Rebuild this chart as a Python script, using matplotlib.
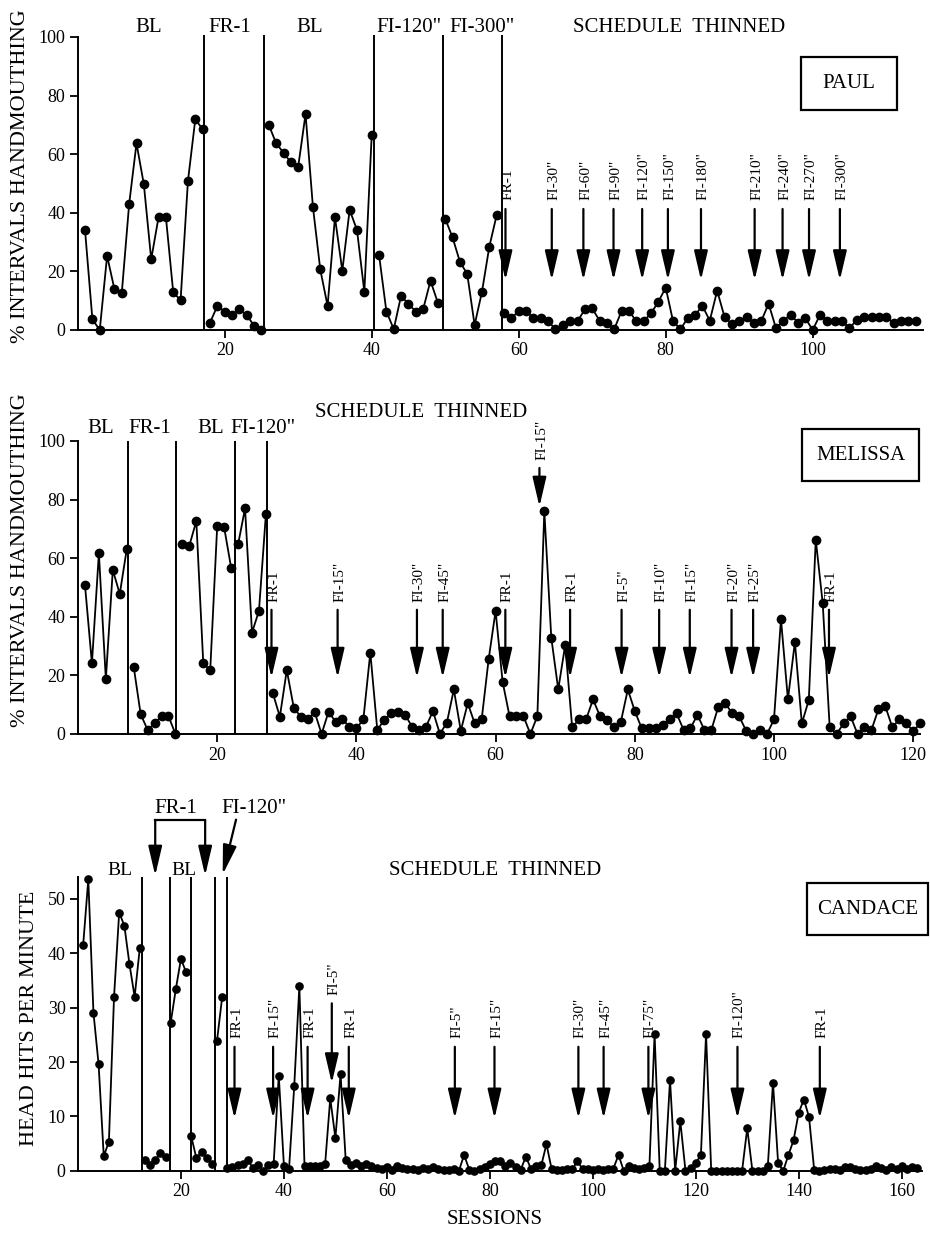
import numpy as np
import matplotlib
matplotlib.use('Agg')
import matplotlib.pyplot as plt
from matplotlib.patches import Rectangle

plt.rcParams['font.family'] = 'Liberation Serif'

# ---- data ----
# Paul: sessions 1-114, phases end at these sessions
paul_values = [34, 3.6, 0, 25.3, 13.9, 12.7, 43, 63.7, 49.7, 24.1, 38.5, 38.5, 12.8, 10.2, 50.9, 71.9, 68.5,
               2.5, 8.2, 6.3, 5.1, 7.1, 5.1, 1.4, 0,
               70, 63.7, 60.5, 57.2, 55.7, 73.7, 42.1, 20.7, 8.2, 38.5, 20.2, 41, 34.1, 13, 66.5,
               25.6, 6.3, 0.3, 11.7, 8.9, 6.3, 7.1, 16.8, 9.3,
               38, 31.6, 23.3, 19.1, 1.7, 13, 28.4, 39.2,
               5.7, 4, 6.5, 6.5, 4, 4, 3, 0.3, 1.7, 3, 3, 7, 7.4, 3.2, 2.5, 0.3, 6.5, 6.5,
               3, 3, 5.7, 9.6, 14.5, 3, 0.3, 4, 5.2, 8.2, 3.2, 13.4, 4.5, 2, 3, 4.4, 2.3, 3, 9, 0.6,
               3.2, 5.2, 2.5, 4, 0, 5.2, 3, 3, 3, 0.6, 3.5, 4.5, 4.5, 4.5, 4.5, 2.5, 3.2, 3.2, 3.2]
paul_breaks = [17, 25, 40, 49, 57]
paul_lines = [17.2, 25.4, 40.3, 49.7, 57.7]
paul_phase_x = [9.6, 20.7, 31.6, 45, 55, 81.8]
paul_phase_text = ['BL', 'FR-1', 'BL', 'FI-120"', 'FI-300"', 'SCHEDULE  THINNED']
paul_arrow_x = [58.2, 64.5, 68.8, 72.9, 76.8, 80.3, 84.8, 92.1, 95.9, 99.5, 103.7]
paul_arrow_text = ['FR-1', 'FI-30"', 'FI-60"', 'FI-90"', 'FI-120"', 'FI-150"', 'FI-180"',
                   'FI-210"', 'FI-240"', 'FI-270"', 'FI-300"']

# Melissa: sessions 1-121
melissa_values = [50.9, 24.1, 61.7, 18.7, 56, 47.8, 63,
                  23, 6.8, 1.4, 3.6, 6.1, 6.1, 0,
                  64.7, 64.3, 72.7, 24.1, 21.8, 71, 70.5, 56.8,
                  64.7, 77, 34.6, 42, 75.1,
                  13.9, 5.9, 21.8, 9, 5.9, 5, 7.5, 0, 7.6, 4.2, 5, 2.5, 1.9,
                  5, 27.8, 1.4, 4.8, 7, 7.6, 6.5, 2.5, 1.4, 2.5, 7.8, 0, 3.9, 15.2, 1.1, 10.5, 3.6, 5, 25.5, 42,
                  17.9, 6.1, 6.1, 6.1, 0, 6.1, 76.1, 32.9, 15.2, 30.4, 2.3, 5, 5, 11.8, 6.1, 4.8, 2.3, 4.2, 15.2,
                  7.8, 1.9, 1.9, 1.9, 3.1, 5, 7, 1.5, 2, 6.5, 1.4, 1.4, 9.3, 10.5, 7, 6, 1.1, 0, 1.4, 0,
                  5, 39.2, 11.8, 31.4, 3.6, 11.6, 66.3, 44.6, 2.3, 0, 3.6, 6.1, 0, 2.3, 1.4, 8.4, 9.4, 2.3,
                  5, 3.6, 1, 3.6]
melissa_breaks = [7, 14, 22, 27]
melissa_lines = [7.2, 14.05, 22.6, 27.1]
melissa_phase_x = [3.3, 10.3, 19, 26.6]
melissa_phase_text = ['BL', 'FR-1', 'BL', 'FI-120"']
melissa_arrow_x = [27.8, 37.3, 48.7, 52.4, 61.4, 66.3, 70.7, 78.1, 83.5, 87.9, 93.9, 97.0, 107.9]
melissa_arrow_text = ['FR-1', 'FI-15"', 'FI-30"', 'FI-45"', 'FR-1', 'FI-15"', 'FR-1',
                      'FI-5"', 'FI-10"', 'FI-15"', 'FI-20"', 'FI-25"', 'FR-1']
melissa_arrow_top = [42.4, 42.4, 42.4, 42.4, 42.4, 90.8, 42.4, 42.4, 42.4, 42.4, 42.4, 42.4, 42.4]
melissa_arrow_tip = [19.2, 19.2, 19.2, 19.2, 19.2, 77.6, 19.2, 19.2, 19.2, 19.2, 19.2, 19.2, 19.2]

# Candace: sessions 1-163
candace_values = [41.5, 53.6, 29.1, 19.6, 2.7, 5.3, 32, 47.5, 45.1, 38, 32, 40.9,
                  2, 1, 2, 3.2, 2.6,
                  27.2, 33.4, 39, 36.5,
                  6.3, 2.3, 3.5, 2.3, 1.3,
                  23.9, 31.9,
                  0.5, 0.7, 1.0, 1.3, 1.9, 0.5, 1.0, 0, 1.0, 1.2, 17.5, 0.9, 0.4, 15.5, 34,
                  0.8, 0.8, 0.8, 0.8, 1.2, 13.3, 6, 17.8, 2,
                  1.0, 1.5, 0.8, 1.3, 0.9, 0.5, 0.3, 0.6, 0.2, 0.8, 0.5, 0.3, 0.4, 0.2, 0.5, 0.4, 0.6,
                  0.3, 0.2, 0.1, 0.3, 0, 2.9, 0.2, 0, 0.4, 0.7, 1.3, 1.8, 1.8, 0.8, 1.4, 0.6, 0.2, 2.6,
                  0.3, 0.9, 1.0, 4.9, 0.3, 0.2, 0.2, 0.4, 0.3, 1.7, 0.4, 0.3, 0.2, 0.3, 0.2, 0.3, 0.4, 2.9,
                  0, 0.9, 0.5, 0.3, 0.5, 0.9,
                  25.2, 0, 0, 16.7, 0, 9.1, 0, 0.5, 1.4, 2.9, 25.2, 0, 0, 0, 0, 0, 0, 0,
                  7.8, 0, 0, 0, 0.9, 16.2, 1.4, 0, 2.9, 5.6, 10.7, 13.1, 9.9,
                  0.2, 0, 0.2, 0.4, 0.3, 0.2, 0.7, 0.6, 0.3, 0.1, 0.2, 0.4, 0.8, 0.5, 0.2, 0.6, 0.3,
                  0.9, 0.4, 0.6, 0.5]
candace_breaks = [12, 17, 21, 26, 28]
candace_lines = [12.4, 17.9, 21.9, 26.7, 28.9]
candace_arrow_x = [30.4, 37.9, 44.6, 49.3, 52.6, 73.2, 80.9, 97.2, 102.1, 110.8, 128.1, 144.1]
candace_arrow_text = ['FR-1', 'FI-15"', 'FR-1', 'FI-5"', 'FR-1', 'FI-5"', 'FI-15"', 'FI-30"',
                      'FI-45"', 'FI-75"', 'FI-120"', 'FR-1']
candace_arrow_top = [22.8, 22.8, 22.8, 30.8, 22.8, 22.8, 22.8, 22.8, 22.8, 22.8, 22.8, 22.8]
candace_arrow_tip = [9.6, 9.6, 9.6, 16.1, 9.6, 9.6, 9.6, 9.6, 9.6, 9.6, 9.6, 9.6]

W, H = 930, 1234
fig = plt.figure(figsize=(W / 100, H / 100), dpi=100)


def px_axes(x0, x1, y_top, y_bottom):
    # axes rectangle from pixel coordinates of the reference
    return fig.add_axes([x0 / W, 1 - y_bottom / H, (x1 - x0) / W, (y_bottom - y_top) / H])


def arrow(ax, x, top, tip, x2=None):
    if x2 is None:
        x2 = x
    ax.annotate('', xy=(x, tip), xytext=(x2, top), annotation_clip=False,
                arrowprops=dict(arrowstyle='-|>,head_length=1.8,head_width=0.42', mutation_scale=10,
                                lw=1.6, color='k', shrinkA=0, shrinkB=0))


def draw_panel(ax, values, breaks, lines, line_top, xmax, ymax, yticks, xticks, ms):
    sessions = np.arange(1, len(values) + 1)
    vals = np.array(values, dtype=float)
    edges = [0] + breaks + [len(values)]
    for a, b in zip(edges[:-1], edges[1:]):
        ax.plot(sessions[a:b], vals[a:b], color='k', lw=1.3, marker='o', ms=ms,
                clip_on=False, zorder=3)
    ax.vlines(lines, 0, line_top, colors='k', lw=1.4, clip_on=False)
    ax.set_xlim(0, xmax)
    ax.set_ylim(0, ymax)
    ax.set_yticks(yticks)
    ax.set_xticks(xticks)
    for s in ['top', 'right']:
        ax.spines[s].set_visible(False)
    for s in ['left', 'bottom']:
        ax.spines[s].set_linewidth(1.4)
    ax.spines['left'].set_bounds(0, yticks[-1] if ymax - yticks[-1] < 1 else ymax)
    ax.tick_params(direction='out', length=6, width=1.3, labelsize=13, pad=3)


def box(x0, x1, y0, y1, text):
    fig.patches.append(Rectangle((x0 / W, 1 - y1 / H), (x1 - x0) / W, (y1 - y0) / H,
                                 transform=fig.transFigure, fill=False, lw=1.6, ec='k'))
    fig.text((x0 + x1) / 2 / W, 1 - (y0 + y1) / 2 / H, text, ha='center', va='center', fontsize=15)


# ---- Paul ----
ax1 = px_axes(77.7, 77.7 + 115 * 7.35, 37, 330)
draw_panel(ax1, paul_values, paul_breaks, paul_lines, 100.8, 115, 100, [0, 20, 40, 60, 80, 100],
           [20, 40, 60, 80, 100], 6)
for x, t in zip(paul_phase_x, paul_phase_text):
    ax1.text(x, 101.8, t, ha='center', va='baseline', fontsize=15)
for x, t in zip(paul_arrow_x, paul_arrow_text):
    arrow(ax1, x, 41.3, 17)
    ax1.text(x + 0.3, 44.4, t, rotation=90, ha='center', va='bottom', fontsize=11)
box(801, 897, 57, 110, 'PAUL')
fig.text(21 / W, 1 - 176 / H, '% INTERVALS HANDMOUTHING', rotation=90, ha='center', va='center',
         fontsize=16)

# ---- Melissa ----
ax2 = px_axes(78, 78 + 121 * 6.96, 441, 734)
draw_panel(ax2, melissa_values, melissa_breaks, melissa_lines, 100, 121, 100, [0, 20, 40, 60, 80, 100],
           [20, 40, 60, 80, 100, 120], 6)
for x, t in zip(melissa_phase_x, melissa_phase_text):
    ax2.text(x, 102.7, t, ha='center', va='baseline', fontsize=15)
ax2.text(49.3, 108.2, 'SCHEDULE  THINNED', ha='center', va='baseline', fontsize=15)
for x, t, top, tip in zip(melissa_arrow_x, melissa_arrow_text, melissa_arrow_top, melissa_arrow_tip):
    arrow(ax2, x, top, tip)
    ax2.text(x + 0.3, top + 2.8, t, rotation=90, ha='center', va='bottom', fontsize=11)
box(802, 919, 429, 481, 'MELISSA')
fig.text(21 / W, 1 - 560 / H, '% INTERVALS HANDMOUTHING', rotation=90, ha='center', va='center',
         fontsize=16)

# ---- Candace ----
ax3 = px_axes(78, 78 + 164 * 5.148, 876.7, 1170.7)
draw_panel(ax3, candace_values, candace_breaks, candace_lines, 54.1, 164, 54.1, [0, 10, 20, 30, 40, 50],
           [20, 40, 60, 80, 100, 120, 140, 160], 5.2)
for x, t, top, tip in zip(candace_arrow_x, candace_arrow_text, candace_arrow_top, candace_arrow_tip):
    arrow(ax3, x, top, tip)
    ax3.text(x + 0.4, top + 1.6, t, rotation=90, ha='center', va='bottom', fontsize=11)
ax3.text(8.1, 54.4, 'BL', ha='center', va='baseline', fontsize=14)
ax3.text(20.6, 54.4, 'BL', ha='center', va='baseline', fontsize=14)
ax3.text(81, 54.4, 'SCHEDULE  THINNED', ha='center', va='baseline', fontsize=15)
# FR-1 bracket and FI-120" pointer above the plot
ax3.plot([15.0, 24.7], [64.5, 64.5], color='k', lw=1.6, clip_on=False)
arrow(ax3, 15.0, 64.5, 54.3)
arrow(ax3, 24.7, 64.5, 54.3)
ax3.text(19.0, 65.8, 'FR-1', ha='center', va='baseline', fontsize=15)
arrow(ax3, 28.1, 64.6, 54.5, x2=30.7)
ax3.text(34.2, 65.8, 'FI-120"', ha='center', va='baseline', fontsize=15)
box(807, 928, 883, 935, 'CANDACE')
fig.text(30 / W, 1 - 1018 / H, 'HEAD HITS PER MINUTE', rotation=90, ha='center', va='center',
         fontsize=16)
fig.text(495 / W, 1 - 1220 / H, 'SESSIONS', ha='center', va='center', fontsize=15)

fig.savefig('out.png', dpi=100)
